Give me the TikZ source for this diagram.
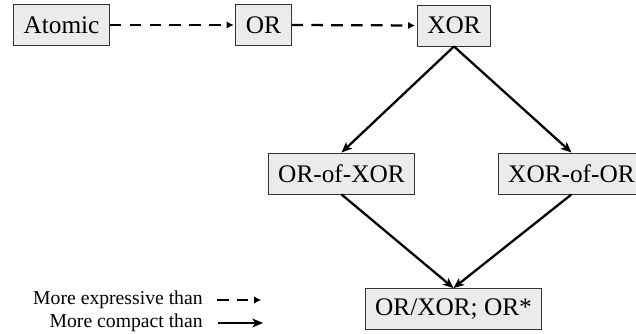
\documentclass[tikz,border=0pt]{standalone}
\usepackage{fontspec}
\setmainfont{Liberation Serif}
\usepackage{xcolor}
\usetikzlibrary{arrows.meta}
\definecolor{box-fill}{HTML}{EBEBEB}
\definecolor{box-line}{HTML}{333333}

\begin{document}
\begin{tikzpicture}[
    every node/.style={font=\fontsize{14.4pt}{17pt}\selectfont},
    classbox/.style={draw=box-line, line width=0.5pt, fill=box-fill,
      minimum height=0.82cm, inner xsep=0.2cm},
    expressive/.style={line width=1.3pt, dash pattern=on 6.6pt off 4.7pt,
      -{Latex[length=4pt, width=4.2pt]}, shorten >=1pt},
    compact/.style={line width=1.3pt, -{Stealth[length=6pt, width=5pt, inset=1.5pt]}},
    legendtext/.style={font=\fontsize{11.2pt}{13pt}\selectfont, anchor=east, inner sep=0pt}
  ]
    \useasboundingbox (0, 0) rectangle (12.72, -6.68);
    \node[classbox] (atomic) at (1.23, -0.5) {Atomic};
    \node[classbox] (or) at (5.27, -0.5) {OR};
    \node[classbox] (xor) at (9.08, -0.51) {XOR};
    \node[classbox] (orofxor) at (6.83, -3.47) {OR-of-XOR};
    \node[classbox] (xorofor) at (11.43, -3.47) {XOR-of-OR};
    \node[classbox] (orxor) at (9.07, -6.18) {OR/XOR; OR*};
    \draw[expressive] (atomic.east) -- (or.west);
    \draw[expressive] (or.east) -- (xor.west);
    \draw[compact] (xor.south) -- (orofxor.north);
    \draw[compact] (xor.south) -- (xorofor.north);
    \draw[compact] (orofxor.south) -- (orxor.north);
    \draw[compact] (xorofor.south) -- (orxor.north);
    % legend
    \node[legendtext] (lexp) at (4.06, -5.99) {More expressive than};
    \node[legendtext] (lcomp) at (4.06, -6.45) {More compact than};
    \coordinate (lexpa) at (4.34, -6.0);
    \coordinate (lexpb) at (5.26, -6.0);
    \coordinate (lcompa) at (4.36, -6.46);
    \coordinate (lcompb) at (5.26, -6.46);
    \draw[expressive] (lexpa) -- (lexpb);
    \draw[compact] (lcompa) -- (lcompb);
  \end{tikzpicture}
\end{document}
